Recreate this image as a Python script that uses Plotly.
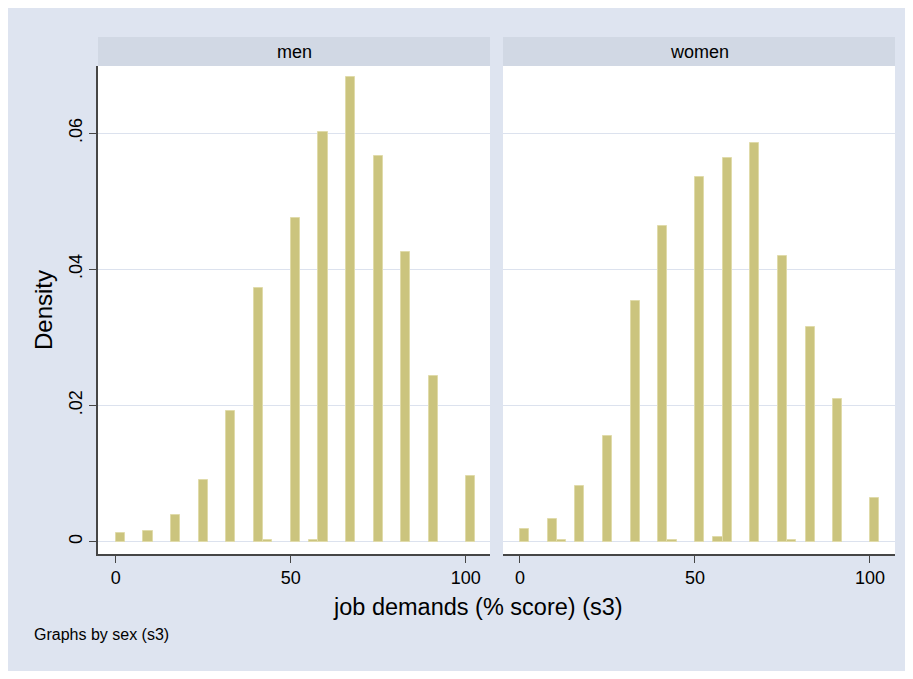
import plotly.graph_objects as go

# ---- data ----
bin_width = 100 / 38  # histogram bin width (job demands score)
men_bins = [0, 3, 6, 9, 12, 15, 16, 19, 21, 22, 25, 28, 31, 34, 38]
men_density = [0.00128, 0.00153, 0.00397, 0.0091, 0.01924, 0.0372, 0.00022,
               0.0476, 0.00020, 0.0601, 0.0682, 0.0566, 0.0425, 0.0243, 0.00965]
women_bins = [0, 3, 4, 6, 9, 12, 15, 16, 19, 21, 22, 25, 28, 29, 31, 34, 38]
women_density = [0.00194, 0.0033, 0.0003, 0.00825, 0.01553, 0.0353, 0.0463, 0.0003,
                 0.0536, 0.00066, 0.0564, 0.0585, 0.0420, 0.0003, 0.0316, 0.0209, 0.00643]
panels = ["men", "women"]
y_ticks = [0, 0.02, 0.04, 0.06]
y_ticklabels = ["0", ".02", ".04", ".06"]
x_ticks = [0, 50, 100]
x_ticklabels = ["0", "50", "100"]

# ---- layout geometry (page pixels; the page body adds an 8px offset) ----
OFF = 8
W, H = 905, 663
L, T = 98 - OFF, 37 - OFF
R = W - (895 - OFF)
B = H - (554 - OFF)
pw, ph = W - L - R, H - T - B


def px_x(p):
    return (p - OFF - L) / pw


def px_y(p):
    return (H - B - (p - OFF)) / ph


left_dom = [0, px_x(490)]
right_dom = [px_x(503), 1]
plot_top = px_y(66)

bar_fill = "rgb(203,196,126)"
bar_line = "rgb(224,219,170)"
grid_col = "rgb(220,226,238)"
axis_col = "rgb(70,70,70)"
bg_col = "rgb(222,228,240)"
strip_col = "rgb(209,216,228)"
font_family = "Liberation Sans, Arial, Helvetica, sans-serif"

fig = go.Figure()
fig.add_trace(go.Bar(
    x=[(b + 0.5) * bin_width for b in men_bins], y=men_density, width=bin_width,
    marker=dict(color=bar_fill, line=dict(color=bar_line, width=1)),
    xaxis="x", yaxis="y", showlegend=False, hoverinfo="x+y"))
fig.add_trace(go.Bar(
    x=[(b + 0.5) * bin_width for b in women_bins], y=women_density, width=bin_width,
    marker=dict(color=bar_fill, line=dict(color=bar_line, width=1)),
    xaxis="x2", yaxis="y2", showlegend=False, hoverinfo="x+y"))

tick_font = dict(family=font_family, size=18, color="black")
xcommon = dict(tickmode="array", tickvals=x_ticks, ticktext=x_ticklabels,
               ticks="outside", ticklen=7, tickcolor=axis_col, tickwidth=1,
               showline=True, linecolor=axis_col, linewidth=1.5,
               showgrid=False, zeroline=False, tickfont=tick_font)
ycommon = dict(range=[-0.0018, 0.06985], tickmode="array", tickvals=y_ticks,
               showgrid=True, gridcolor=grid_col, gridwidth=1, zeroline=False)

fig.update_layout(
    width=W, height=H,
    margin=dict(l=L, r=R, t=T, b=B, pad=0),
    paper_bgcolor=bg_col, plot_bgcolor="white",
    bargap=0, barmode="overlay",
    font=dict(family=font_family, color="black"),
    xaxis=dict(domain=left_dom, range=[-5.05, 106.95], anchor="y", **xcommon),
    xaxis2=dict(domain=right_dom, range=[-4.85, 107.15], anchor="y2", **xcommon),
    yaxis=dict(domain=[0, plot_top], anchor="x", ticktext=y_ticklabels,
               ticks="outside", ticklen=7, tickcolor=axis_col, tickwidth=1,
               tickangle=-90, showline=True, linecolor=axis_col, linewidth=1.5,
               tickfont=tick_font, **ycommon),
    yaxis2=dict(domain=[0, plot_top], anchor="x2", showticklabels=False,
                ticks="", showline=False, **ycommon),
)

shapes = []
for dom in (left_dom, right_dom):
    shapes.append(dict(type="rect", xref="paper", yref="paper",
                       x0=dom[0], x1=dom[1], y0=plot_top, y1=1,
                       fillcolor=strip_col, line=dict(width=0), layer="below"))
fig.update_layout(shapes=shapes)

annotations = []
for name, dom in zip(panels, (left_dom, right_dom)):
    annotations.append(dict(text=name, xref="paper", yref="paper",
                            x=(dom[0] + dom[1]) / 2, y=(plot_top + 1) / 2,
                            showarrow=False, xanchor="center", yanchor="middle",
                            font=dict(family=font_family, size=18, color="black")))
annotations.append(dict(text="Density", xref="paper", yref="paper",
                        x=px_x(43), y=px_y(310), textangle=-90, showarrow=False,
                        xanchor="center", yanchor="middle",
                        font=dict(family=font_family, size=24, color="black")))
annotations.append(dict(text="job demands (% score) (s3)", xref="paper", yref="paper",
                        x=px_x(478), y=px_y(607), showarrow=False,
                        xanchor="center", yanchor="middle",
                        font=dict(family=font_family, size=23.5, color="black")))
annotations.append(dict(text="Graphs by sex (s3)", xref="paper", yref="paper",
                        x=px_x(32), y=px_y(634), showarrow=False,
                        xanchor="left", yanchor="middle",
                        font=dict(family=font_family, size=16, color="black")))
fig.update_layout(annotations=annotations)

fig.write_html("out.html")
